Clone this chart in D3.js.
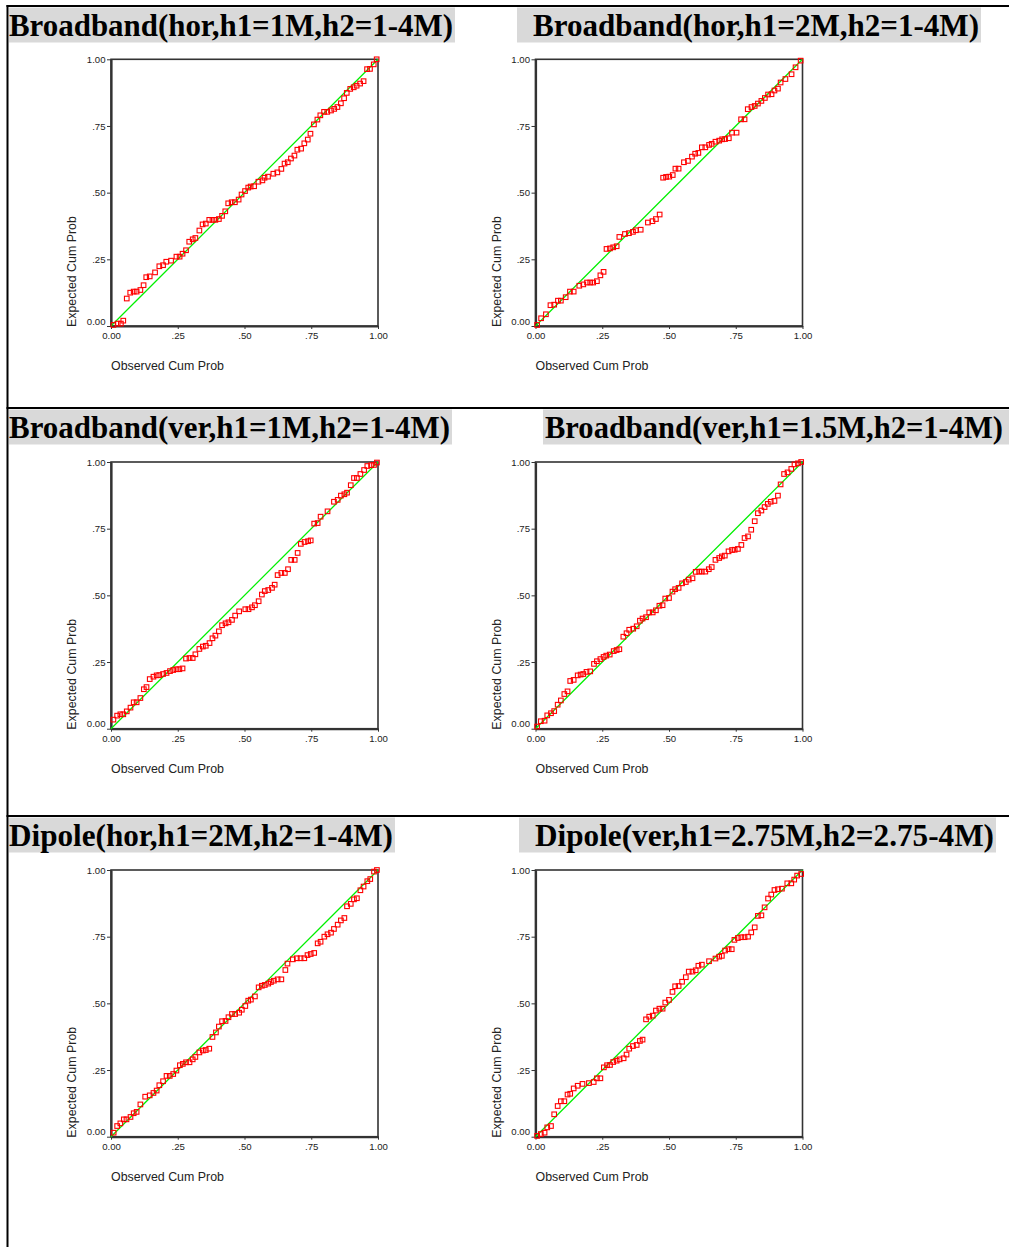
<!DOCTYPE html>
<html><head><meta charset="utf-8">
<script src="https://cdn.jsdelivr.net/npm/d3@7"></script>
<style>body{margin:0;background:#fff}svg{display:block}</style>
</head><body>
<svg id="chart" width="1009" height="1247"></svg>
<script>
const titles = [
  "Broadband(hor,h1=1M,h2=1-4M)",
  "Broadband(hor,h1=2M,h2=1-4M)",
  "Broadband(ver,h1=1M,h2=1-4M)",
  "Broadband(ver,h1=1.5M,h2=1-4M)",
  "Dipole(hor,h1=2M,h2=1-4M)",
  "Dipole(ver,h1=2.75M,h2=2.75-4M)"
];
const tickValues = [0, 0.25, 0.5, 0.75, 1];
const tickLabels = ["0.00", ".25", ".50", ".75", "1.00"];
const xAxisTitle = "Observed Cum Prob";
const yAxisTitle = "Expected Cum Prob";

const obs1 = [0.009,0.025,0.037,0.046,0.059,0.072,0.085,0.096,0.110,0.122,0.132,0.145,0.165,0.181,0.195,0.207,0.225,0.245,0.257,0.268,0.281,0.293,0.306,0.316,0.331,0.343,0.355,0.368,0.380,0.391,0.404,0.416,0.428,0.439,0.452,0.464,0.478,0.489,0.502,0.514,0.523,0.536,0.552,0.567,0.575,0.588,0.608,0.623,0.638,0.650,0.662,0.674,0.687,0.698,0.712,0.724,0.737,0.747,0.760,0.773,0.784,0.798,0.810,0.824,0.836,0.848,0.861,0.873,0.883,0.896,0.909,0.920,0.933,0.946,0.959,0.970,0.984,0.995];
const exp1 = [0.004,0.009,0.009,0.020,0.103,0.125,0.129,0.129,0.135,0.153,0.183,0.186,0.201,0.224,0.228,0.241,0.245,0.260,0.260,0.271,0.284,0.316,0.325,0.330,0.358,0.381,0.384,0.398,0.398,0.398,0.401,0.413,0.430,0.460,0.464,0.464,0.474,0.493,0.506,0.519,0.523,0.524,0.541,0.546,0.556,0.560,0.571,0.576,0.589,0.609,0.614,0.628,0.639,0.661,0.665,0.685,0.699,0.721,0.756,0.774,0.790,0.803,0.803,0.808,0.814,0.821,0.835,0.854,0.874,0.889,0.895,0.901,0.909,0.918,0.963,0.964,0.981,1.000];

const obs2 = [0.006,0.021,0.039,0.056,0.070,0.084,0.095,0.113,0.129,0.143,0.164,0.179,0.193,0.205,0.216,0.230,0.243,0.255,0.266,0.279,0.291,0.304,0.314,0.335,0.350,0.365,0.376,0.394,0.421,0.438,0.451,0.465,0.478,0.489,0.501,0.514,0.524,0.536,0.556,0.571,0.586,0.598,0.610,0.623,0.636,0.650,0.660,0.674,0.688,0.699,0.710,0.724,0.736,0.753,0.770,0.783,0.795,0.809,0.821,0.833,0.846,0.859,0.871,0.884,0.895,0.908,0.918,0.936,0.959,0.974,0.993];
const exp2 = [0.004,0.029,0.044,0.078,0.080,0.095,0.095,0.108,0.129,0.129,0.151,0.156,0.163,0.163,0.163,0.168,0.190,0.203,0.289,0.291,0.295,0.299,0.334,0.345,0.348,0.353,0.359,0.361,0.388,0.393,0.401,0.418,0.556,0.559,0.560,0.566,0.590,0.590,0.614,0.619,0.635,0.646,0.649,0.670,0.670,0.679,0.683,0.691,0.695,0.700,0.701,0.704,0.725,0.725,0.775,0.775,0.813,0.821,0.825,0.834,0.844,0.855,0.868,0.869,0.883,0.890,0.913,0.926,0.944,0.970,0.995];

const obs3 = [0.009,0.023,0.035,0.046,0.059,0.073,0.085,0.096,0.110,0.123,0.133,0.145,0.159,0.171,0.181,0.195,0.208,0.221,0.233,0.245,0.256,0.268,0.281,0.294,0.306,0.316,0.331,0.344,0.355,0.369,0.380,0.391,0.404,0.416,0.429,0.440,0.453,0.465,0.480,0.503,0.515,0.528,0.539,0.553,0.565,0.576,0.589,0.603,0.613,0.624,0.638,0.651,0.663,0.675,0.688,0.699,0.711,0.725,0.738,0.748,0.761,0.774,0.785,0.811,0.835,0.849,0.861,0.874,0.884,0.898,0.910,0.921,0.934,0.948,0.960,0.974,0.985,0.996];
const exp3 = [0.034,0.049,0.054,0.054,0.065,0.079,0.099,0.099,0.115,0.148,0.156,0.186,0.195,0.200,0.201,0.205,0.209,0.216,0.220,0.223,0.223,0.226,0.263,0.265,0.265,0.279,0.299,0.308,0.311,0.321,0.339,0.349,0.365,0.388,0.395,0.399,0.408,0.424,0.440,0.448,0.448,0.455,0.463,0.478,0.503,0.516,0.520,0.528,0.540,0.576,0.584,0.584,0.598,0.633,0.633,0.659,0.693,0.700,0.703,0.706,0.769,0.771,0.795,0.815,0.851,0.858,0.874,0.879,0.885,0.913,0.940,0.940,0.955,0.970,0.985,0.988,0.989,0.998];

const obs4 = [0.006,0.020,0.034,0.044,0.058,0.070,0.083,0.095,0.108,0.120,0.130,0.143,0.158,0.169,0.179,0.191,0.205,0.219,0.230,0.243,0.255,0.265,0.278,0.293,0.304,0.314,0.329,0.341,0.351,0.366,0.379,0.391,0.401,0.414,0.426,0.439,0.451,0.464,0.476,0.486,0.500,0.513,0.523,0.536,0.549,0.563,0.574,0.588,0.600,0.613,0.623,0.636,0.649,0.660,0.674,0.688,0.698,0.709,0.723,0.736,0.746,0.758,0.771,0.783,0.796,0.808,0.821,0.833,0.846,0.858,0.870,0.881,0.895,0.908,0.918,0.931,0.944,0.958,0.970,0.983,0.995];
const exp4 = [0.008,0.028,0.030,0.050,0.058,0.066,0.090,0.106,0.130,0.140,0.179,0.183,0.200,0.203,0.205,0.213,0.215,0.243,0.253,0.261,0.269,0.274,0.278,0.291,0.295,0.298,0.345,0.358,0.371,0.375,0.384,0.405,0.413,0.418,0.436,0.436,0.444,0.461,0.463,0.488,0.490,0.514,0.523,0.528,0.545,0.550,0.559,0.564,0.588,0.589,0.589,0.589,0.598,0.606,0.633,0.640,0.646,0.649,0.665,0.670,0.671,0.674,0.689,0.715,0.721,0.746,0.778,0.808,0.818,0.831,0.843,0.851,0.854,0.874,0.916,0.955,0.961,0.974,0.991,0.995,1.000];

const obs5 = [0.010,0.023,0.035,0.048,0.058,0.073,0.085,0.096,0.110,0.128,0.145,0.159,0.171,0.181,0.195,0.208,0.220,0.233,0.245,0.258,0.269,0.281,0.294,0.306,0.316,0.331,0.344,0.355,0.368,0.380,0.393,0.404,0.416,0.429,0.440,0.453,0.465,0.480,0.490,0.503,0.514,0.524,0.539,0.553,0.565,0.576,0.589,0.599,0.610,0.624,0.638,0.653,0.661,0.681,0.696,0.710,0.724,0.736,0.748,0.761,0.774,0.785,0.799,0.811,0.824,0.835,0.849,0.861,0.874,0.884,0.898,0.910,0.921,0.934,0.946,0.960,0.971,0.985,0.996];
const exp5 = [0.015,0.040,0.050,0.065,0.065,0.074,0.088,0.093,0.121,0.150,0.155,0.164,0.173,0.193,0.208,0.228,0.228,0.235,0.248,0.268,0.273,0.279,0.279,0.290,0.299,0.316,0.323,0.325,0.330,0.374,0.391,0.413,0.433,0.434,0.448,0.460,0.460,0.465,0.476,0.490,0.510,0.514,0.526,0.560,0.566,0.569,0.574,0.580,0.585,0.590,0.590,0.625,0.649,0.665,0.669,0.669,0.669,0.681,0.685,0.689,0.725,0.731,0.750,0.759,0.765,0.779,0.795,0.811,0.820,0.864,0.873,0.890,0.894,0.924,0.938,0.958,0.966,0.994,1.000];

const obs6 = [0.006,0.020,0.034,0.044,0.058,0.070,0.083,0.095,0.108,0.120,0.130,0.143,0.158,0.176,0.200,0.218,0.230,0.243,0.256,0.268,0.279,0.291,0.304,0.315,0.330,0.341,0.351,0.365,0.379,0.391,0.401,0.414,0.426,0.439,0.451,0.464,0.476,0.486,0.500,0.513,0.523,0.536,0.549,0.563,0.574,0.588,0.600,0.610,0.623,0.650,0.674,0.688,0.698,0.710,0.723,0.735,0.745,0.758,0.771,0.783,0.796,0.808,0.821,0.833,0.846,0.858,0.871,0.883,0.895,0.908,0.923,0.943,0.958,0.969,0.980,0.995];
const exp6 = [0.003,0.010,0.015,0.035,0.040,0.084,0.115,0.133,0.133,0.158,0.161,0.181,0.191,0.198,0.201,0.205,0.219,0.219,0.260,0.268,0.269,0.280,0.285,0.290,0.294,0.308,0.330,0.340,0.344,0.359,0.364,0.440,0.450,0.454,0.473,0.480,0.480,0.503,0.513,0.543,0.564,0.565,0.581,0.598,0.619,0.619,0.624,0.641,0.645,0.658,0.668,0.675,0.678,0.698,0.703,0.703,0.738,0.745,0.748,0.748,0.750,0.766,0.785,0.828,0.830,0.860,0.893,0.908,0.925,0.928,0.930,0.950,0.950,0.964,0.979,0.985];

const observed = [obs1, obs2, obs3, obs4, obs5, obs6];
const expected = [exp1, exp2, exp3, exp4, exp5, exp6];

// ---- layout ----
const W = 1009, H = 1247;
const rowSep = [6, 408, 816];
const plotLeft = [111, 535.5];
const plotTop = [59.3, 462, 870];
const PW = 267, PH = 266.7;
// title boxes: [boxX, boxRight, textX, textWidth]
const titleGeom = [
  [9, 455, 9, 444], [517, 981, 533, 446],
  [9, 452, 9, 441], [543, 1009, 545, 458],
  [9, 395, 9, 384], [519, 996, 535, 459]
];

const svg = d3.select("#chart");
svg.append("rect").attr("width", W).attr("height", H).attr("fill", "#fff");

rowSep.forEach(y => {
  svg.append("line").attr("x1", 6.5).attr("x2", W).attr("y1", y).attr("y2", y)
    .attr("stroke", "#000").attr("stroke-width", 2);
});
svg.append("line").attr("x1", 7.5).attr("x2", 7.5).attr("y1", 5).attr("y2", H)
  .attr("stroke", "#000").attr("stroke-width", 2);

titles.forEach((t, i) => {
  const row = Math.floor(i / 2), col = i % 2;
  const [bx, br, tx, tw] = titleGeom[i];
  const sep = rowSep[row];
  svg.append("rect").attr("x", bx).attr("y", sep + 1.5).attr("width", br - bx).attr("height", 35)
    .attr("fill", "#d9d9d9");
  const txt = svg.append("text").attr("x", tx).attr("y", sep + 30)
    .attr("font-family", "'Liberation Serif','Times New Roman',serif")
    .attr("font-weight", "bold").attr("font-size", 31.5)
    .attr("fill", "#000").text(t);
  const natural = txt.node().getComputedTextLength();
  if (natural > tw) txt.attr("font-size", 31.5 * tw / natural);
  txt.attr("textLength", tw).attr("lengthAdjust", "spacingAndGlyphs");

  const x0 = plotLeft[col], y0 = plotTop[row];
  const x = d3.scaleLinear().domain([0, 1]).range([x0, x0 + PW]);
  const y = d3.scaleLinear().domain([0, 1]).range([y0 + PH, y0]);
  const g = svg.append("g");

  g.append("rect").attr("x", x0).attr("y", y0).attr("width", PW).attr("height", PH)
    .attr("fill", "#fff").attr("stroke", "#333").attr("stroke-width", 1.6);

  const xa = g.append("g").attr("transform", `translate(0,${y0 + PH})`)
    .call(d3.axisBottom(x).tickValues(tickValues).tickFormat((d, k) => tickLabels[k])
      .tickSize(3).tickSizeOuter(0).tickPadding(3.4));
  const ya = g.append("g").attr("transform", `translate(${x0},0)`)
    .call(d3.axisLeft(y).tickValues(tickValues).tickFormat((d, k) => tickLabels[k])
      .tickSize(4).tickSizeOuter(0).tickPadding(1.5));
  [xa, ya].forEach(a => {
    a.select(".domain").attr("stroke", "#333").attr("stroke-width", 2.2);
    a.selectAll(".tick line").attr("stroke", "#333").attr("stroke-width", 1);
    a.selectAll(".tick text").attr("fill", "#222")
      .attr("font-family", "'Liberation Sans',Arial,sans-serif").attr("font-size", 9.6);
  });
  ya.selectAll(".tick").filter(d => d === 0).select("text").attr("y", -5);

  g.append("line").attr("x1", x(0)).attr("y1", y(0)).attr("x2", x(1)).attr("y2", y(1))
    .attr("stroke", "#00f000").attr("stroke-width", 1.3);

  const pts = observed[i].map((o, k) => ({o, e: expected[i][k]}));
  const s = 4.6;
  g.selectAll("rect.pt").data(pts).join("rect").attr("class", "pt")
    .attr("x", d => x(d.o) - s / 2).attr("y", d => y(d.e) - s / 2)
    .attr("width", s).attr("height", s)
    .attr("fill", "none").attr("stroke", "#ff0000").attr("stroke-width", 1.1);

  g.append("text").attr("x", x0).attr("y", y0 + PH + 44.2)
    .attr("font-family", "'Liberation Sans',Arial,sans-serif").attr("font-size", 12.4)
    .attr("fill", "#222").text(xAxisTitle);
  g.append("text").attr("transform", `translate(${x0 - 35},${y0 + PH + 1}) rotate(-90)`)
    .attr("font-family", "'Liberation Sans',Arial,sans-serif").attr("font-size", 12.4)
    .attr("fill", "#222").text(yAxisTitle);
});
</script>
</body></html>
